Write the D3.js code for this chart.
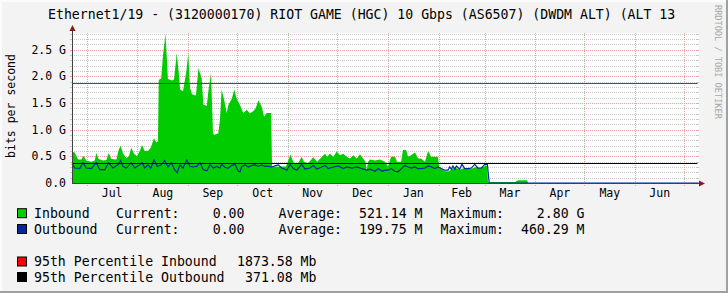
<html>
<head>
<meta charset="utf-8">
<script src="https://d3js.org/d3.v7.min.js"></script>
<style>
    body { margin: 0; background: #f3f3f3; }
    svg text { font-family: "DejaVu Sans Mono", monospace; fill: #000; }
</style>
</head>
<body>
<script>
    var title = "Ethernet1/19 - (3120000170) RIOT GAME (HGC) 10 Gbps (AS6507) (DWDM ALT) (ALT 13";
    var watermark = "RRDTOOL / TOBI OETIKER";
    var yLabel = "bits per second";

    // time window of the graph
    var startDate = new Date(2018, 5, 22);
    var endDate = new Date(2019, 6, 9, 16);

    var monthLabels = ["Jul", "Aug", "Sep", "Oct", "Nov", "Dec", "Jan", "Feb", "Mar", "Apr", "May", "Jun"];
    var yTicks = [0, 0.5, 1.0, 1.5, 2.0, 2.5];
    var yTickLabels = ["0.0", "0.5 G", "1.0 G", "1.5 G", "2.0 G", "2.5 G"];

    // [days since startDate, Gbps]
    var inbound = [
        [0, 0.59], [1.6, 0.57], [3.7, 0.44], [5.7, 0.44], [7.1, 0.51], [8.7, 0.42], [11.8, 0.40], [13.9, 0.42],
        [14.8, 0.56], [16.3, 0.45], [18.9, 0.42], [21.0, 0.43], [22.4, 0.56], [24.0, 0.45], [27.1, 0.44], [28.5, 0.62],
        [29.7, 0.70], [31.2, 0.55], [33.2, 0.47], [34.8, 0.50], [36.2, 0.66], [37.9, 0.55], [39.7, 0.50], [41.4, 0.60],
        [42.8, 0.71], [44.4, 0.60], [46.4, 0.60], [48.1, 0.66], [50.1, 0.84], [51.5, 0.76], [52.5, 0.78], [53.0, 1.93],
        [54.5, 1.96], [55.6, 2.40], [56.4, 2.60], [57.0, 2.80], [57.8, 2.40], [58.6, 1.95], [61.1, 1.92], [62.3, 1.94],
        [64.0, 2.43], [65.4, 2.00], [66.0, 1.75], [67.8, 1.72], [69.9, 2.10], [71.0, 2.43], [72.1, 1.78], [73.3, 1.66],
        [75.7, 1.64], [77.2, 2.15], [79.2, 1.96], [80.2, 1.47], [82.3, 1.44], [83.3, 1.72], [84.9, 2.06], [86.1, 0.95],
        [86.7, 0.90], [89.4, 0.93], [90.4, 1.20], [91.4, 1.75], [93.0, 1.55], [94.5, 1.31], [95.5, 1.46], [97.6, 1.58],
        [99.1, 1.75], [100.6, 1.58], [102.6, 1.46], [104.6, 1.31], [106.7, 1.37], [108.7, 1.30], [110.8, 1.35], [112.2, 1.40],
        [113.8, 1.55], [115.9, 1.43], [117.3, 1.24], [118.9, 1.31], [121.6, 1.31], [122.2, 0.30], [127.1, 0.31], [130.7, 0.31],
        [133.5, 0.54], [134.4, 0.45], [135.6, 0.37], [138.1, 0.37], [140.3, 0.49], [141.7, 0.40], [144.2, 0.37], [147.4, 0.48],
        [149.7, 0.40], [152.7, 0.49], [154.6, 0.55], [155.8, 0.49], [157.6, 0.55], [159.6, 0.49], [161.7, 0.59], [163.7, 0.52],
        [165.7, 0.55], [167.8, 0.49], [169.8, 0.46], [171.8, 0.52], [173.9, 0.46], [175.9, 0.54], [177.8, 0.46], [179.3, 0.40],
        [180.0, 0.24], [180.8, 0.40], [182.0, 0.44], [185.1, 0.42], [188.1, 0.44], [191.2, 0.40], [193.0, 0.31], [194.9, 0.49],
        [197.3, 0.49], [198.5, 0.40], [201.0, 0.40], [202.2, 0.62], [204.0, 0.62], [205.3, 0.49], [207.1, 0.52], [209.5, 0.57],
        [211.4, 0.46], [213.2, 0.46], [215.6, 0.40], [217.5, 0.60], [219.3, 0.49], [221.7, 0.49], [223.6, 0.49], [224.2, 0.30],
        [225.4, 0.27], [227.9, 0.22], [230.3, 0.22], [232.1, 0.27], [234.6, 0.28], [237.0, 0.25], [239.5, 0.28], [241.9, 0.27],
        [244.3, 0.27], [246.8, 0.30], [249.2, 0.27], [251.6, 0.31], [253.5, 0.33], [254.1, 0.02], [270.6, 0.02], [272.4, 0.05],
        [277.9, 0.05], [278.6, 0], [382.7, 0]
    ];

    var outbound = [
        [0, 0.36], [1.6, 0.28], [4.7, 0.27], [6.7, 0.38], [8.7, 0.28], [11.8, 0.27], [14.8, 0.38], [16.9, 0.25],
        [20.0, 0.25], [22.4, 0.38], [25.0, 0.28], [28.1, 0.34], [29.7, 0.42], [31.2, 0.31], [33.2, 0.28], [36.2, 0.38],
        [38.3, 0.28], [41.4, 0.34], [42.8, 0.38], [44.4, 0.28], [46.4, 0.34], [48.1, 0.28], [50.1, 0.43], [52.1, 0.31],
        [54.5, 0.34], [56.6, 0.42], [58.6, 0.30], [60.7, 0.38], [62.7, 0.25], [64.3, 0.19], [65.8, 0.34], [67.8, 0.28],
        [70.1, 0.43], [72.1, 0.31], [74.1, 0.30], [76.2, 0.31], [78.2, 0.38], [80.2, 0.25], [82.3, 0.23], [84.3, 0.34],
        [86.3, 0.28], [88.4, 0.31], [90.4, 0.28], [91.4, 0.35], [93.5, 0.29], [95.5, 0.28], [97.6, 0.33], [99.6, 0.35],
        [101.6, 0.22], [102.6, 0.21], [103.7, 0.31], [105.7, 0.34], [107.7, 0.30], [109.8, 0.33], [111.8, 0.34], [113.8, 0.31],
        [115.9, 0.34], [117.9, 0.31], [119.9, 0.31], [122.0, 0.30], [124.0, 0.32], [126.0, 0.34], [128.1, 0.28], [129.1, 0.27],
        [131.2, 0.24], [133.2, 0.35], [135.2, 0.27], [137.3, 0.24], [140.3, 0.35], [142.3, 0.26], [145.4, 0.28], [147.4, 0.33],
        [149.5, 0.26], [152.5, 0.30], [154.6, 0.33], [156.6, 0.27], [159.6, 0.30], [162.7, 0.32], [165.7, 0.27], [167.8, 0.30],
        [170.9, 0.28], [173.9, 0.30], [177.0, 0.27], [180.0, 0.24], [182.0, 0.26], [185.1, 0.22], [187.1, 0.27], [189.2, 0.22],
        [191.2, 0.24], [193.0, 0.24], [195.0, 0.27], [197.1, 0.22], [199.1, 0.21], [201.2, 0.27], [203.2, 0.33], [205.3, 0.30],
        [207.3, 0.28], [209.3, 0.30], [211.4, 0.27], [213.4, 0.27], [215.5, 0.28], [217.5, 0.32], [219.5, 0.30], [221.6, 0.27],
        [223.6, 0.30], [225.6, 0.27], [227.7, 0.24], [229.7, 0.24], [230.7, 0.30], [231.7, 0.26], [232.7, 0.32], [233.8, 0.26],
        [234.8, 0.32], [236.8, 0.26], [238.2, 0.35], [239.9, 0.27], [241.9, 0.27], [243.9, 0.28], [246.0, 0.35], [248.0, 0.28],
        [250.0, 0.28], [252.1, 0.35], [253.7, 0.35], [254.8, 0.01], [255.4, 0], [382.7, 0]
    ];

    var pct95In = 1.87358;   // Gbps
    var pct95Out = 0.37108;  // Gbps

    var legendNames = ["Inbound", "Outbound"];
    var currentVals = ["0.00", "0.00"];
    var averageVals = ["521.14 M", "199.75 M"];
    var maxVals = ["2.80 G", "460.29 M"];
    var pctNames = ["95th Percentile Inbound", "95th Percentile Outbound"];
    var pctVals = ["1873.58 Mb", "371.08 Mb"];

    var inColor = "#00cc00", outColor = "#002a97";
    var pctColors = ["#ff0000", "#000000"];

    var W = 728, H = 293;
    var plotL = 72, plotR = 698.5, plotT = 33.5, plotB = 183;

    var svg = d3.select("body").append("svg")
        .attr("width", W)
        .attr("height", H);

    // background and bevelled frame
    svg.append("rect").attr("width", W).attr("height", H).attr("fill", "#f3f3f3");
    svg.append("path").attr("d", "M0,0H" + W + "V2H2V" + H + "H0Z").attr("fill", "#fcfcfc");
    svg.append("path").attr("d", "M" + W + ",0V" + H + "H0V" + (H - 2) + "H" + (W - 2) + "V0Z").attr("fill", "#a0a0a0");

    var x = d3.scaleTime().domain([startDate, endDate]).range([plotL, plotR]);
    var y = d3.scaleLinear().domain([0, 2.8]).range([plotB, plotT]);

    function day(d) { return new Date(startDate.getTime() + d * 864e5); }
    function crisp(v) { return Math.round(v) + 0.5; }

    // plot canvas
    svg.append("rect")
        .attr("x", plotL).attr("y", 33)
        .attr("width", 699 - plotL).attr("height", plotB - 33)
        .attr("fill", "#fff");

    // grid
    var grid = svg.append("g");
    var minor = d3.range(1, 29).map(function (i) { return i / 10; })
        .filter(function (v) { return Math.round(v * 10) % 5 !== 0; });
    var major = d3.range(1, 6).map(function (i) { return i / 2; });

    grid.selectAll(".minor").data(minor).enter().append("line")
        .attr("x1", plotL).attr("x2", 699)
        .attr("y1", function (d) { return crisp(y(d)); })
        .attr("y2", function (d) { return crisp(y(d)); })
        .attr("stroke", "#c8c8c8")
        .attr("stroke-dasharray", "1,1");
    grid.selectAll(".major").data(major).enter().append("line")
        .attr("x1", plotL).attr("x2", 699)
        .attr("y1", function (d) { return crisp(y(d)); })
        .attr("y2", function (d) { return crisp(y(d)); })
        .attr("stroke", "#e8a4a4")
        .attr("stroke-dasharray", "1,1");

    // short solid ticks at both ends of the grid lines
    grid.selectAll(".tk").data(minor.concat(major)).enter().append("path")
        .attr("d", function (d) {
            var yy = crisp(y(d));
            return "M" + (plotL - 2) + "," + yy + "H" + (plotL + 1) + "M" + 696 + "," + yy + "H" + 699;
        })
        .attr("stroke", function (d) { return major.indexOf(d) >= 0 ? "#e8a4a4" : "#c8c8c8"; });

    var months = d3.timeMonth.range(d3.timeMonth.ceil(startDate), endDate);
    grid.selectAll(".vline").data(months).enter().append("line")
        .attr("x1", function (d) { return crisp(x(d)); })
        .attr("x2", function (d) { return crisp(x(d)); })
        .attr("y1", 33).attr("y2", plotB + 3)
        .attr("stroke", "#e8a4a4")
        .attr("stroke-dasharray", "1,1");

    // data
    var plot = svg.append("g");
    var area = d3.area()
        .x(function (d) { return x(day(d[0])); })
        .y0(y(0))
        .y1(function (d) { return y(d[1]); });
    plot.append("path").datum(inbound)
        .attr("d", area)
        .attr("fill", inColor);

    var line = d3.line()
        .x(function (d) { return x(day(d[0])); })
        .y(function (d) { return y(d[1]); });
    plot.append("path").datum(outbound)
        .attr("d", line)
        .attr("fill", "none")
        .attr("stroke", outColor)
        .attr("stroke-width", 1.2);

    [pct95In, pct95Out].forEach(function (v, i) {
        plot.append("line")
            .attr("x1", plotL).attr("x2", 697.5)
            .attr("y1", crisp(y(v))).attr("y2", crisp(y(v)))
            .attr("stroke", pctColors[i]);
    });

    // axes
    svg.append("path")
        .attr("d", "M" + (plotL + 0.5) + "," + (plotB + 0.5) + "V29M" + plotL + "," + (plotB + 0.5) + "H700")
        .attr("stroke", "#404040").attr("fill", "none");
    svg.append("path").attr("d", "M69.5,31L72.5,25L75.5,31Z").attr("fill", "#8b1a1a");
    svg.append("path").attr("d", "M699,180.5L705,183.5L699,186.5Z").attr("fill", "#8b1a1a");

    // y tick labels
    svg.selectAll(".ylab").data(yTicks).enter().append("text")
        .attr("x", 66)
        .attr("y", function (d) { return y(d) + 4; })
        .attr("text-anchor", "end")
        .attr("font-size", "11.5px")
        .text(function (d, i) { return yTickLabels[i]; });

    // month labels centred in each month
    svg.selectAll(".xlab").data(monthLabels).enter().append("text")
        .attr("x", function (d, i) {
            var m = months[i];
            return (x(m) + x(d3.timeMonth.offset(m, 1))) / 2;
        })
        .attr("y", 197)
        .attr("text-anchor", "middle")
        .attr("font-size", "11.5px")
        .text(function (d) { return d; });

    svg.append("text")
        .attr("transform", "translate(15,106) rotate(-90)")
        .attr("text-anchor", "middle")
        .attr("font-size", "11.5px")
        .text(yLabel);

    svg.append("text")
        .attr("x", 48).attr("y", 19)
        .attr("font-size", "13.2px")
        .text(title);

    svg.append("text")
        .attr("transform", "translate(715,5) rotate(90)")
        .attr("font-size", "8.6px")
        .style("fill", "#a8a8a8")
        .text(watermark);

    // legend
    var legend = svg.append("g").attr("font-size", "13.2px");
    var rowY = [217.7, 233.5];
    legendNames.forEach(function (name, i) {
        var g = legend.append("g");
        g.append("rect").attr("x", 17.5).attr("y", rowY[i] - 9).attr("width", 9).attr("height", 9)
            .attr("fill", i === 0 ? inColor : outColor).attr("stroke", "#000");
        g.append("text").attr("x", 34).attr("y", rowY[i]).text(name);
        g.append("text").attr("x", 116).attr("y", rowY[i]).text("Current:");
        g.append("text").attr("x", 244.5).attr("y", rowY[i]).attr("text-anchor", "end").text(currentVals[i]);
        g.append("text").attr("x", 278.5).attr("y", rowY[i]).text("Average:");
        g.append("text").attr("x", 422.5).attr("y", rowY[i]).attr("text-anchor", "end").text(averageVals[i]);
        g.append("text").attr("x", 440.5).attr("y", rowY[i]).text("Maximum:");
        g.append("text").attr("x", 584.5).attr("y", rowY[i]).attr("text-anchor", "end").text(maxVals[i]);
    });
    var pctY = [266, 281.5];
    pctNames.forEach(function (name, i) {
        legend.append("rect").attr("x", 17.5).attr("y", pctY[i] - 9).attr("width", 9).attr("height", 9)
            .attr("fill", pctColors[i]).attr("stroke", "#000");
        legend.append("text").attr("x", 34).attr("y", pctY[i]).text(name);
        legend.append("text").attr("x", 316.5).attr("y", pctY[i]).attr("text-anchor", "end").text(pctVals[i]);
    });
</script>
</body>
</html>
